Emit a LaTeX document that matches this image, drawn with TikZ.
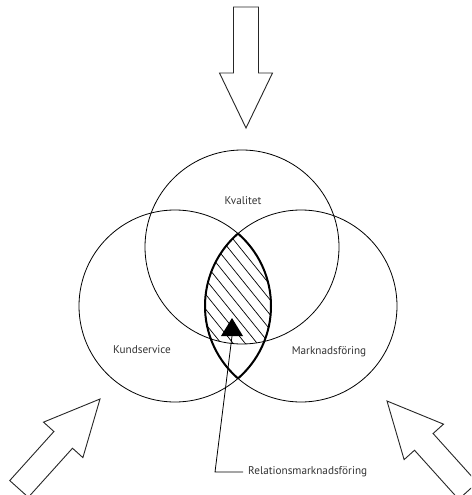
\documentclass[tikz,border=0pt]{standalone}
\usepackage{fontspec}
\setmainfont{PT Sans}
\begin{document}
\begin{tikzpicture}[x=1pt,y=-1pt,
  ring/.style={draw=black, line width=0.8pt},
  lensline/.style={draw=black, line width=2.0pt},
  bigarrow/.style={draw=black!85, line width=0.9pt, fill=white, line join=miter},
  hatchline/.style={draw=black, line width=0.7pt},
  lbl/.style={font=\fontsize{11.2}{13}\selectfont, text=black!80, inner sep=0pt},
  pointer/.style={draw=black, line width=0.8pt}]
\useasboundingbox (0,0) rectangle (471,495);
\fill[white] (0,0) rectangle (471,495);
\clip (0,0) rectangle (471,495);

% centres
\coordinate (cK) at (242,247);
\coordinate (cL) at (175,306);
\coordinate (cR) at (301,306);

% big arrows
\def\arrowshape{(0,0) -- (-55,26.5) -- (-55,12.5) -- (-121,12.5) -- (-121,-12.5) -- (-55,-12.5) -- (-55,-26.5) -- cycle}
\draw[bigarrow, shift={(246,128)}, rotate=-90] \arrowshape;
\draw[bigarrow, shift={(100,399)}, rotate=48] \arrowshape;
\draw[bigarrow, shift={(387,401)}, rotate=132] \arrowshape;

% hatching in triple intersection
\begin{scope}
  \clip (cL) circle[radius=96pt];
  \clip (cR) circle[radius=96pt];
  \clip (cK) circle[radius=97pt];
  \foreach \k in {-8,...,8} {
    \draw[hatchline] ({218+12*\k-100},{265-124}) -- ({218+12*\k+100},{265+124});
  }
\end{scope}

% circles
\draw[ring] (cK) circle[radius=97pt];
\draw[ring] (cL) circle[radius=96pt];
\draw[ring] (cR) circle[radius=96pt];

% bold lens outline
\begin{scope}
  \clip (cR) circle[radius=96pt];
  \draw[lensline] (cL) circle[radius=96pt];
\end{scope}
\begin{scope}
  \clip (cL) circle[radius=96pt];
  \draw[lensline] (cR) circle[radius=96pt];
\end{scope}

% labels
\node[lbl] (kval) at (243,201) {Kvalitet};
\node[lbl] (kund) at (142,350) {Kundservice};
\node[lbl] (mark) at (329,352) {Marknadsföring};
\node[lbl, anchor=west] (rel) at (248,472) {Relationsmarknadsföring};

% triangle marker and pointer
\fill[black] (232,318) -- (243,336) -- (221,336) -- cycle;
\coordinate (tribase) at (232,336);
\coordinate (bend) at (215,472);
\draw[pointer] (tribase) -- (bend) -- ([xshift=-5pt]rel.west);
\end{tikzpicture}
\end{document}
